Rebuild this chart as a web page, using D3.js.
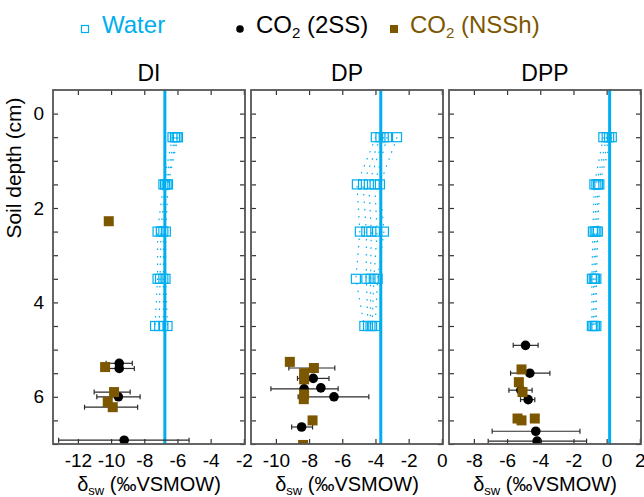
<!DOCTYPE html>
<html>
<head>
<meta charset="utf-8">
<script src="https://cdn.jsdelivr.net/npm/d3@7"></script>
<style>
  html, body { margin: 0; padding: 0; background: #fff; }
  svg { display: block; font-family: "Liberation Sans", Arial, Helvetica, sans-serif; }
</style>
</head>
<body>
<svg id="chart" width="644" height="497"></svg>
<script>
// Soil-water δ18O profiles and CO2-derived estimates for three treatments
const panelNames = ["DI", "DP", "DPP"];
const xDomains = [[-13.5, -1.93], [-11.5, 0.07], [-9.5, 2.07]];
const xTickValues = [[-12, -10, -8, -6, -4, -2], [-10, -8, -6, -4, -2, 0], [-8, -6, -4, -2, 0, 2]];
const yTickValues = [0, 0.5, 1, 1.5, 2, 2.5, 3, 3.5, 4, 4.5, 5, 5.5, 6, 6.5, 7];
const yLabelValues = [0, 2, 4, 6];

// Mean irrigation-water value per treatment (vertical reference line)
const meanWater = [-6.76, -3.68, 0.18];

// Sampled soil-water depths (cm) and replicate profiles
const waterDepths = [0.5, 1.5, 2.5, 3.5, 4.5];
const waterDI = [
  [-6.30, -6.85, -7.20, -7.20, -7.35],
  [-6.15, -6.75, -7.00, -7.05, -7.10],
  [-6.05, -6.65, -6.85, -6.85, -6.85],
  [-5.97, -6.57, -6.70, -6.72, -6.60]
];
const waterDP = [
  [-3.98, -5.12, -4.94, -5.18, -4.67],
  [-3.70, -4.75, -4.55, -4.55, -4.45],
  [-3.50, -4.40, -4.25, -4.30, -4.30],
  [-3.30, -4.05, -3.90, -4.10, -4.20],
  [-2.70, -3.73, -3.49, -3.87, -4.02]
];
const waterDPP = [
  [-0.20, -0.74, -0.83, -0.89, -0.89],
  [0.00, -0.62, -0.72, -0.78, -0.80],
  [0.15, -0.52, -0.62, -0.70, -0.70],
  [0.31, -0.44, -0.53, -0.62, -0.62]
];

// CO2 (2SS) estimates: value, depth, error-bar low/high
const co2SS_DI = [
  {v: -9.51, d: 5.29, lo: -10.30, hi: -8.72},
  {v: -9.51, d: 5.40, lo: -10.24, hi: -8.60},
  {v: -9.56, d: 6.00, lo: -10.86, hi: -8.25},
  {v: -9.21, d: 6.92, lo: -13.16, hi: -5.30}
];
const co2SS_DP = [
  {v: -7.75, d: 5.61, lo: -8.70, hi: -6.80},
  {v: -8.30, d: 5.83, lo: -10.30, hi: -6.25},
  {v: -7.29, d: 5.81, lo: -7.29, hi: -7.29},
  {v: -6.50, d: 6.00, lo: -8.66, hi: -4.40},
  {v: -8.45, d: 6.64, lo: -9.05, hi: -7.79}
];
const co2SS_DPP = [
  {v: -4.89, d: 4.91, lo: -5.63, hi: -4.13},
  {v: -4.63, d: 5.50, lo: -5.79, hi: -3.42},
  {v: -5.17, d: 5.86, lo: -5.89, hi: -4.49},
  {v: -4.73, d: 6.06, lo: -5.19, hi: -4.33},
  {v: -4.27, d: 6.73, lo: -6.90, hi: -1.61},
  {v: -4.19, d: 6.94, lo: -7.14, hi: -1.21}
];

// CO2 (NSSh) estimates
const co2NS_DI = [
  {v: -10.14, d: 2.28, lo: -10.14, hi: -10.14},
  {v: -10.36, d: 5.37, lo: -10.36, hi: -10.36},
  {v: -9.82, d: 5.90, lo: -11.02, hi: -8.85},
  {v: -10.20, d: 6.11, lo: -10.20, hi: -10.20},
  {v: -9.90, d: 6.22, lo: -11.60, hi: -8.40}
];
const co2NS_DP = [
  {v: -9.16, d: 5.26, lo: -9.16, hi: -9.16},
  {v: -7.71, d: 5.39, lo: -9.22, hi: -6.45},
  {v: -8.30, d: 5.50, lo: -8.30, hi: -8.30},
  {v: -8.30, d: 5.63, lo: -8.30, hi: -8.30},
  {v: -8.30, d: 5.95, lo: -8.30, hi: -8.30},
  {v: -8.32, d: 6.05, lo: -8.32, hi: -8.32},
  {v: -7.79, d: 6.50, lo: -7.79, hi: -7.79},
  {v: -8.36, d: 7.02, lo: -8.36, hi: -8.36}
];
const co2NS_DPP = [
  {v: -5.13, d: 5.42, lo: -5.13, hi: -5.13},
  {v: -5.29, d: 5.69, lo: -5.29, hi: -5.29},
  {v: -5.07, d: 5.90, lo: -5.07, hi: -5.07},
  {v: -5.37, d: 6.46, lo: -5.37, hi: -5.37},
  {v: -5.13, d: 6.50, lo: -5.13, hi: -5.13},
  {v: -4.33, d: 6.46, lo: -4.33, hi: -4.33}
];

const waterSets = [waterDI, waterDP, waterDPP];
const co2SSSets = [co2SS_DI, co2SS_DP, co2SS_DPP];
const co2NSSets = [co2NS_DI, co2NS_DP, co2NS_DPP];

const BLUE = "#00aeef";
const BROWN = "#7d5700";
const FRAME = "#555";

const svg = d3.select("#chart");
const panelLeft = [53, 251, 449];
const panelW = 192;
const plotTop = 90, plotBottom = 444;

const y = d3.scaleLinear().domain([-0.5, 7]).range([plotTop, plotBottom]);

const defs = svg.append("defs");

panelNames.forEach((name, i) => {
  const x = d3.scaleLinear().domain(xDomains[i]).range([0, panelW]);
  const g = svg.append("g").attr("transform", `translate(${panelLeft[i]},0)`);

  defs.append("clipPath").attr("id", "clip" + i)
    .append("rect").attr("x", 0).attr("y", plotTop).attr("width", panelW).attr("height", plotBottom - plotTop);

  const plot = g.append("g").attr("clip-path", `url(#clip${i})`);

  // Replicate water profiles (dotted) and their markers
  const line = d3.line().x(p => x(p[0])).y(p => y(p[1]));
  waterSets[i].forEach(rep => {
    const pts = rep.map((v, k) => [v, waterDepths[k]]);
    plot.append("path").attr("d", line(pts))
      .attr("fill", "none").attr("stroke", BLUE)
      .attr("stroke-width", 1.2).attr("stroke-dasharray", "1.5,6");
  });
  waterSets[i].forEach(rep => {
    plot.append("g").selectAll("rect").data(rep).join("rect")
      .attr("x", v => x(v) - 4.5)
      .attr("y", (v, k) => y(waterDepths[k]) - 4.5)
      .attr("width", 9).attr("height", 9)
      .attr("fill", "none").attr("stroke", BLUE).attr("stroke-width", 1.2);
  });

  // Mean water line
  plot.append("line")
    .attr("x1", x(meanWater[i])).attr("x2", x(meanWater[i]))
    .attr("y1", plotTop).attr("y2", plotBottom)
    .attr("stroke", BLUE).attr("stroke-width", 3);

  // Error bars with end caps
  function errorBars(data) {
    const eb = plot.append("g").attr("stroke", "#2b2b2b").attr("stroke-width", 1.2);
    data.filter(p => p.hi > p.lo).forEach(p => {
      const yy = y(p.d);
      eb.append("line").attr("x1", x(p.lo)).attr("x2", x(p.hi)).attr("y1", yy).attr("y2", yy);
      eb.append("line").attr("x1", x(p.lo)).attr("x2", x(p.lo)).attr("y1", yy - 2.5).attr("y2", yy + 2.5);
      eb.append("line").attr("x1", x(p.hi)).attr("x2", x(p.hi)).attr("y1", yy - 2.5).attr("y2", yy + 2.5);
    });
  }

  errorBars(co2SSSets[i]);
  plot.append("g").selectAll("circle").data(co2SSSets[i]).join("circle")
    .attr("cx", p => x(p.v)).attr("cy", p => y(p.d)).attr("r", 4.8).attr("fill", "#000");

  errorBars(co2NSSets[i]);
  plot.append("g").selectAll("rect").data(co2NSSets[i]).join("rect")
    .attr("x", p => x(p.v) - 5).attr("y", p => y(p.d) - 5)
    .attr("width", 10).attr("height", 10).attr("fill", BROWN);

  // Axes: ticks point inward on all four sides
  const axB = d3.axisBottom(x).tickValues(xTickValues[i]).tickSize(-5).tickPadding(10).tickFormat(d3.format("d"));
  const axT = d3.axisTop(x).tickValues(xTickValues[i]).tickSize(-5).tickFormat("");
  const axL = d3.axisLeft(y).tickValues(yTickValues).tickSize(-5).tickPadding(9)
    .tickFormat(d => (i === 0 && yLabelValues.includes(d)) ? d3.format("d")(d) : "");
  const axR = d3.axisRight(y).tickValues(yTickValues).tickSize(-5).tickFormat("");

  const styleAxis = sel => {
    sel.select(".domain").remove();
    sel.selectAll(".tick line").attr("stroke", "#333").attr("stroke-width", 1.2);
    sel.selectAll(".tick text").attr("font-size", 19).attr("fill", "#000")
      .attr("font-family", "Liberation Sans, Arial, sans-serif");
  };
  g.append("g").attr("transform", `translate(0,${plotBottom})`).call(axB).call(styleAxis)
    .selectAll(".tick text").text(d => d < 0 ? "-" + Math.abs(d) : d);
  g.append("g").attr("transform", `translate(0,${plotTop})`).call(axT).call(styleAxis);
  g.append("g").call(axL).call(styleAxis);
  g.append("g").attr("transform", `translate(${panelW},0)`).call(axR).call(styleAxis);

  // Frame
  g.append("rect").attr("x", 0).attr("y", plotTop).attr("width", panelW).attr("height", plotBottom - plotTop)
    .attr("fill", "none").attr("stroke", FRAME).attr("stroke-width", 1.8);

  // Panel title
  g.append("text").attr("x", panelW / 2).attr("y", 81).attr("text-anchor", "middle")
    .attr("font-size", 23).attr("fill", "#000").text(name);

  // x-axis title
  const xt = g.append("text").attr("x", panelW / 2).attr("y", 491).attr("text-anchor", "middle")
    .attr("font-size", 20).attr("fill", "#000");
  xt.append("tspan").text("δ");
  xt.append("tspan").attr("font-size", 13).attr("dy", 4).text("sw");
  xt.append("tspan").attr("dy", -4).text(" (‰VSMOW)");
});

// y-axis title
svg.append("text").attr("transform", "translate(21,168) rotate(-90)")
  .attr("text-anchor", "middle").attr("font-size", 21).attr("fill", "#000")
  .text("Soil depth (cm)");

// Legend
const leg = svg.append("g");
leg.append("rect").attr("x", 81.5).attr("y", 25.5).attr("width", 7).attr("height", 7)
  .attr("fill", "none").attr("stroke", BLUE).attr("stroke-width", 1.2);
leg.append("text").attr("x", 102).attr("y", 33).attr("font-size", 24).attr("fill", BLUE).text("Water");

leg.append("circle").attr("cx", 240).attr("cy", 29).attr("r", 3.8).attr("fill", "#000");
const t2 = leg.append("text").attr("x", 256).attr("y", 33).attr("font-size", 24).attr("fill", "#000");
t2.append("tspan").text("CO");
t2.append("tspan").attr("font-size", 15).attr("dy", 5).text("2");
t2.append("tspan").attr("dy", -5).text(" (2SS)");

leg.append("rect").attr("x", 390).attr("y", 25).attr("width", 8).attr("height", 8).attr("fill", BROWN);
const t3 = leg.append("text").attr("x", 410).attr("y", 33).attr("font-size", 24).attr("fill", BROWN);
t3.append("tspan").text("CO");
t3.append("tspan").attr("font-size", 15).attr("dy", 5).text("2");
t3.append("tspan").attr("dy", -5).text(" (NSSh)");
</script>
</body>
</html>
